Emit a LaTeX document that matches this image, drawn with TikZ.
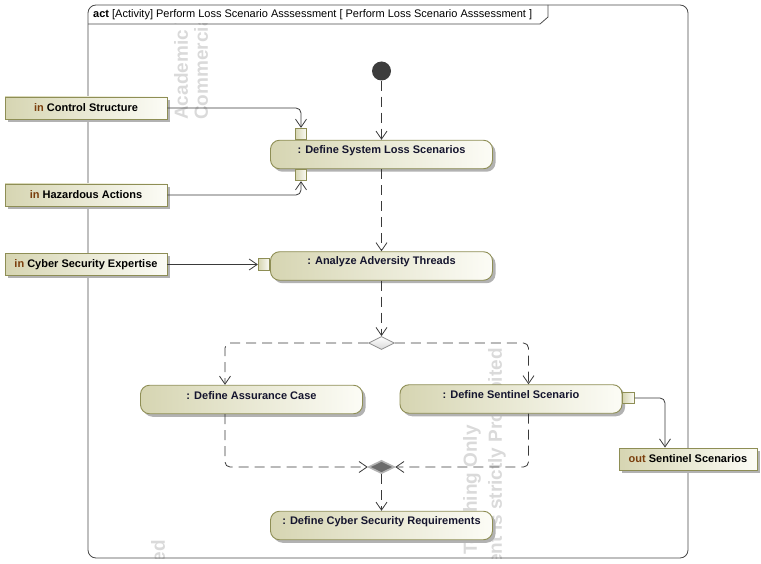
\documentclass[tikz,border=0pt]{standalone}
\usepackage{fontspec}
\setmainfont{Liberation Sans}
\usetikzlibrary{arrows.meta,shapes.geometric,shadows}
\definecolor{lnc}{HTML}{3A3A3A}
\definecolor{frm}{HTML}{4A4A4A}
\definecolor{bord}{HTML}{8E8E55}
\definecolor{fillL}{HTML}{D6D5B2}
\definecolor{fillR}{HTML}{FCFCF6}
\definecolor{kw}{HTML}{7A3E0C}
\definecolor{txt}{HTML}{15152E}
\definecolor{wm}{HTML}{DADADA}
\definecolor{initc}{HTML}{3D3D3D}
\begin{document}
\begin{tikzpicture}[x=1pt,y=-1pt,
 shad/.style={drop shadow={shadow xshift=3pt,shadow yshift=-3pt,fill=black!30,opacity=1}},
 actbox/.style={draw=bord, line width=0.9pt, rounded corners=9pt, left color=fillL, right color=fillR,
   minimum width=222pt, minimum height=28.5pt, inner sep=0pt, shad},
 acttxt/.style={font=\bfseries\fontsize{11}{13}\selectfont, text=txt, inner sep=0pt},
 parbox/.style={draw=bord, line width=0.9pt, left color=fillL, right color=fillR, minimum height=22pt,
   inner sep=0pt, font=\bfseries\fontsize{11}{13}\selectfont, text=black, shad},
 pinbox/.style={draw=bord, line width=0.8pt, left color=fillL, right color=fillR,
   minimum width=11.5pt, minimum height=11.5pt, inner sep=0pt},
 flow/.style={draw=lnc, line width=0.8pt, -{Straight Barb[length=8pt,width=11pt]}},
 ctrl/.style={flow, dash pattern=on 10pt off 6pt},
 wmtxt/.style={font=\bfseries\fontsize{19}{19}\selectfont, text=wm, rotate=90, inner sep=0pt}
]
\useasboundingbox (0,0) rectangle (761,564);
% watermark
\begin{scope}
\clip (88,24) rectangle (688,558);
\node[wmtxt, anchor=west] (wa1) at (183,120) {Academic Version for Teaching Only};
\node[wmtxt, anchor=west] (wa2) at (203,120) {Commercial Development is strictly Prohibited};
\node[wmtxt, anchor=east] (wb1) at (472,425) {Academic Version for Teaching Only};
\node[wmtxt, anchor=east] (wb2) at (497,348) {Commercial Development is strictly Prohibited};
\node[wmtxt, anchor=east] (wc2) at (160,540) {Commercial Development is strictly Prohibited};
\end{scope}
% frame
\draw[frm, line width=0.8pt, rounded corners=8pt] (88,5) rectangle (688,558);
\draw[frm, line width=0.8pt] (88,24) -- (540,24) -- (548,17) -- (548,5);
\node[anchor=west, font=\fontsize{11}{13}\selectfont, inner sep=0pt] (hdr) at (93,14.5)
  {\textbf{act} [Activity] Perform Loss Scenario Asssessment [ Perform Loss Scenario Asssessment ]};
% initial node
\node[circle, fill=initc, minimum size=19pt, inner sep=0pt] (init) at (381.5,71) {};
% actions
\node[actbox] (sl) at (381.5,154.5) {};
\node[acttxt] (slt) at ([yshift=4pt]sl.center) {: Define System Loss Scenarios};
\node[actbox] (an) at (381.5,266) {};
\node[acttxt] (ant) at ([yshift=4pt]an.center) {: Analyze Adversity Threads};
\node[actbox] (ac) at (251.5,399.5) {};
\node[acttxt] (act) at ([yshift=4pt]ac.center) {: Define Assurance Case};
\node[actbox] (sn) at (511,399) {};
\node[acttxt] (snt) at ([yshift=4pt]sn.center) {: Define Sentinel Scenario};
\node[actbox] (rq) at (381.5,525.5) {};
\node[acttxt] (rqt) at ([yshift=4pt]rq.center) {: Define Cyber Security Requirements};
% pins
\node[pinbox] (p1) at (301,134) {};
\node[pinbox] (p2) at (301,175) {};
\node[pinbox] (p3) at (264,264.5) {};
\node[pinbox] (p4) at (628.5,398) {};
% parameters
\node[parbox, minimum width=162pt] (cs) at (86,108) {\textcolor{kw}{in} Control Structure};
\node[parbox, minimum width=162pt] (ha) at (86,195) {\textcolor{kw}{in} Hazardous Actions};
\node[parbox, minimum width=162pt] (cy) at (86,264.5) {\textcolor{kw}{in} Cyber Security Expertise};
\node[parbox, minimum width=138pt] (os) at (688,459) {\textcolor{kw}{out} Sentinel Scenarios};
% decision / merge
\node[diamond, draw=black!45, line width=0.8pt, top color=white, bottom color=black!15,
  minimum width=26pt, minimum height=13pt, inner sep=0pt] (dec) at (381.5,343) {};
\node[diamond, draw=black!30, line width=1.6pt, fill=black!58,
  minimum width=26pt, minimum height=13pt, inner sep=0pt] (mg) at (381.5,467) {};
% control flows
\draw[ctrl] (init.south) -- (sl.north);
\draw[ctrl] (sl.south) -- (an.north);
\draw[ctrl] (an.south) -- (dec.north);
\draw[ctrl, rounded corners=5pt] (dec.west) -| ([xshift=-26.5pt]ac.north);
\draw[ctrl, rounded corners=5pt] (dec.east) -| ([xshift=17.5pt]sn.north);
\draw[ctrl, rounded corners=5pt] ([xshift=-26.5pt]ac.south) |- (mg.west);
\draw[ctrl, rounded corners=5pt] ([xshift=17.5pt]sn.south) |- (mg.east);
\draw[ctrl] (mg.south) -- (rq.north);
% object flows
\draw[flow, rounded corners=5pt] (cs.east) -| (p1.north);
\draw[flow, rounded corners=5pt] (ha.east) -| (p2.south);
\draw[flow] (cy.east) -- (p3.west);
\draw[flow, rounded corners=5pt] (p4.east) -| ([xshift=-23pt]os.north);
\end{tikzpicture}
\end{document}
